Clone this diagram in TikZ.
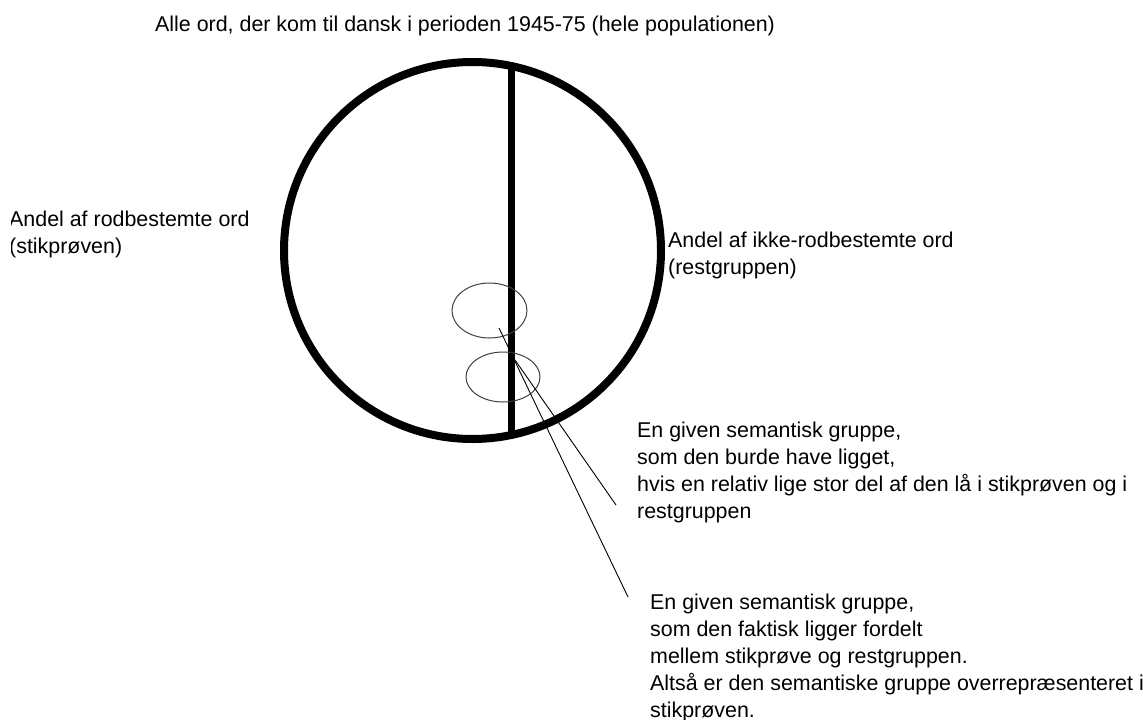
\documentclass[tikz,border=0pt]{standalone}
\usepackage{fontspec}
\setmainfont{Liberation Sans}
\usetikzlibrary{shapes.geometric}
\begin{document}
\begin{tikzpicture}[x=1pt,y=-1pt,
  lbl/.style={font=\fontsize{21.4}{27}\selectfont, inner sep=0pt, align=left, anchor=base west},
  bigring/.style={draw=black, line width=8pt},
  divider/.style={draw=black, line width=7pt},
  group/.style={ellipse, draw=black!75, line width=1pt, inner sep=0pt},
  pointer/.style={draw=black, line width=0.9pt}
]
\useasboundingbox (0,0) rectangle (1143,720);
% population circle
\coordinate (c) at (472.5,250.5);
\draw[bigring] (c) circle (188.5);
\coordinate (divtop) at (511,66);
\coordinate (divbot) at (511,435);
\draw[divider] (divtop) -- (divbot);
% semantic groups
\node[group, minimum width=75pt, minimum height=55pt] (g1) at (489.5,310.5) {};
\node[group, minimum width=74pt, minimum height=50pt] (g2) at (503,377) {};
% texts (base anchor = baseline of last line)
\node[lbl] (title) at (155,31) {Alle ord, der kom til dansk i perioden 1945-75 (hele populationen)};
\begin{scope}
\clip (11.5,180) rectangle (300,280);
\node[lbl] (left) at (9,253) {Andel af rodbestemte ord\\(stikprøven)};
\end{scope}
\node[lbl] (right) at (668,274) {Andel af ikke-rodbestemte ord\\(restgruppen)};
\node[lbl] (t1) at (637,518) {En given semantisk gruppe,\\som den burde have ligget,\\hvis en relativ lige stor del af den lå i stikprøven og i\\restgruppen};
\node[lbl] (t2) at (650,717) {En given semantisk gruppe,\\som den faktisk ligger fordelt\\mellem stikprøve og restgruppen.\\Altså er den semantiske gruppe overrepræsenteret i\\stikprøven.};
% pointers
\coordinate (p1s) at (499,328);
\coordinate (p1e) at (628,597);
\coordinate (p2s) at (515,360);
\coordinate (p2e) at (616,505);
\draw[pointer] (p1s) -- (p1e);
\draw[pointer] (p2s) -- (p2e);
\end{tikzpicture}
\end{document}
